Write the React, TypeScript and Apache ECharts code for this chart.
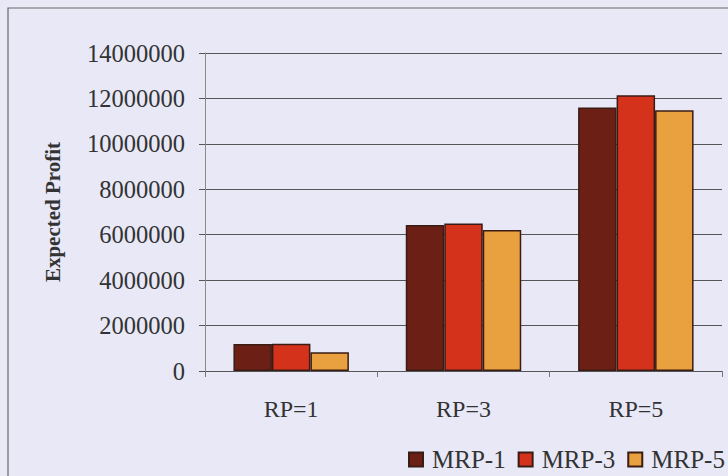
import React, { useEffect, useRef } from "react";
import * as echarts from "echarts";

const categories = ["RP=1", "RP=3", "RP=5"];
const seriesNames = ["MRP-1", "MRP-3", "MRP-5"];
const mrp1 = [1190000, 6430000, 11600000];
const mrp3 = [1200000, 6490000, 12140000];
const mrp5 = [820000, 6210000, 11480000];
const seriesValues = [mrp1, mrp3, mrp5];
const colors = ["#6b1f15", "#d5321c", "#e9a03e"];
const yAxisName = "Expected Profit";

const FONT = "'Liberation Serif', 'Times New Roman', serif";

export default function App() {
  const ref = useRef<HTMLDivElement>(null);
  useEffect(() => {
    document.body.style.margin = "0";
    document.body.style.background = "#e8e8f7";
    const chart = echarts.init(ref.current!, null, { renderer: "svg" });
    chart.setOption({
      animation: false,
      backgroundColor: "#e8e8f7",
      textStyle: { fontFamily: FONT },
      graphic: [
        {
          type: "rect",
          shape: { x: 8, y: 8, width: 800, height: 600 },
          style: { fill: "none", stroke: "#666", lineWidth: 1.2 },
          silent: true,
        },
      ],
      grid: { left: 205, right: 6, top: 53, bottom: 105 },
      legend: {
        data: seriesNames,
        left: 408,
        top: 447,
        padding: 0,
        icon: "rect",
        itemWidth: 14,
        itemHeight: 14,
        itemGap: 12,
        textStyle: { fontSize: 25, color: "#333", fontFamily: FONT, padding: [0, 0, 0, 4] },
      },
      xAxis: {
        type: "category",
        data: categories,
        axisLine: { lineStyle: { color: "#555", width: 1 } },
        axisTick: { show: true, length: 6, lineStyle: { color: "#777" } },
        axisLabel: { fontSize: 24, color: "#333", margin: 26, fontFamily: FONT },
      },
      yAxis: {
        type: "value",
        min: 0,
        max: 14000000,
        interval: 2000000,
        name: yAxisName,
        nameLocation: "middle",
        nameGap: 142,
        nameTextStyle: { fontSize: 21, fontWeight: "bold", color: "#333", fontFamily: FONT },
        axisLine: { show: true, lineStyle: { color: "#888", width: 1 } },
        axisTick: { show: true, length: 6, lineStyle: { color: "#555" } },
        axisLabel: {
          fontSize: 24.5,
          color: "#333",
          margin: 20,
          fontFamily: FONT,
          formatter: (v: number) => String(v),
        },
        splitLine: { show: true, lineStyle: { color: "#555", width: 1 } },
      },
      series: seriesNames.map((name, i) => ({
        name,
        type: "bar",
        data: seriesValues[i],
        barGap: "0%",
        barCategoryGap: "33%",
        itemStyle: { color: colors[i], borderColor: "#3a1c14", borderWidth: 1.5 },
      })),
    });
    return () => chart.dispose();
  }, []);
  return (
    <div
      ref={ref}
      style={{ position: "absolute", left: 0, top: 0, width: 728, height: 476 }}
    />
  );
}
